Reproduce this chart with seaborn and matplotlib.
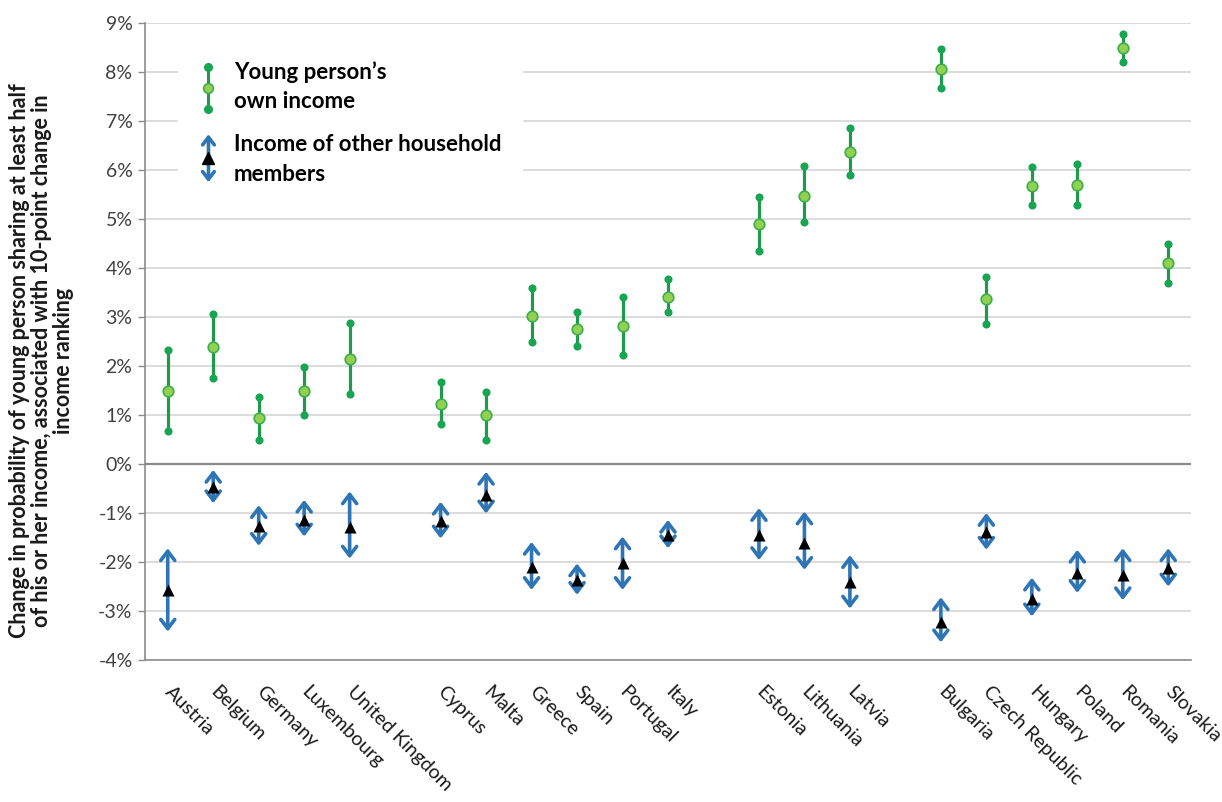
import numpy as np
import pandas as pd
import matplotlib
matplotlib.use("Agg")
import matplotlib.pyplot as plt
import seaborn as sns
from matplotlib.lines import Line2D
from matplotlib.patches import FancyArrowPatch
from matplotlib.legend_handler import HandlerBase

# ---------------- data ----------------
country_groups = [
    ["Austria", "Belgium", "Germany", "Luxembourg", "United Kingdom"],
    ["Cyprus", "Malta", "Greece", "Spain", "Portugal", "Italy"],
    ["Estonia", "Lithuania", "Latvia"],
    ["Bulgaria", "Czech Republic", "Hungary", "Poland", "Romania", "Slovakia"],
]

own_mid = [1.48, 2.39, 0.93, 1.48, 2.14,
           1.22, 1.01, 3.03, 2.76, 2.82, 3.41,
           4.90, 5.46, 6.36,
           8.06, 3.36, 5.67, 5.70, 8.50, 4.10]
own_lo = [0.67, 1.75, 0.50, 1.00, 1.42,
          0.81, 0.50, 2.50, 2.41, 2.22, 3.11,
          4.35, 4.93, 5.90,
          7.68, 2.86, 5.28, 5.28, 8.21, 3.69]
own_hi = [2.32, 3.06, 1.37, 1.97, 2.87,
          1.68, 1.46, 3.60, 3.11, 3.40, 3.77,
          5.44, 6.08, 6.85,
          8.47, 3.82, 6.06, 6.12, 8.78, 4.50]

oth_mid = [-2.57, -0.46, -1.27, -1.14, -1.28,
           -1.16, -0.63, -2.10, -2.37, -2.03, -1.45,
           -1.45, -1.62, -2.40,
           -3.22, -1.38, -2.75, -2.22, -2.27, -2.13]
oth_lo = [-3.42, -0.80, -1.67, -1.48, -1.93,
          -1.52, -1.01, -2.57, -2.67, -2.57, -1.72,
          -1.96, -2.16, -2.95,
          -3.64, -1.75, -3.11, -2.63, -2.78, -2.50]
oth_hi = [-1.72, -0.12, -0.84, -0.73, -0.56,
          -0.77, -0.16, -1.59, -2.03, -1.48, -1.14,
          -0.90, -0.97, -1.86,
          -2.72, -1.00, -2.32, -1.75, -1.72, -1.72]

y_ticks = [-4, -3, -2, -1, 0, 1, 2, 3, 4, 5, 6, 7, 8, 9]
y_tick_labels = ["-4%", "-3%", "-2%", "-1%", "0%", "1%", "2%", "3%",
                 "4%", "5%", "6%", "7%", "8%", "9%"]

legend_own = "Young person\u2019s\nown income"
legend_oth = "Income of other household\nmembers"
y_label = ("Change in probability of young person sharing at least half\n"
           "of his or her income, associated with 10-point change in\n"
           "income ranking")

# category positions: one empty slot between groups
countries, pos = [], []
slot = 0
for gi, grp in enumerate(country_groups):
    for c in grp:
        countries.append(c)
        pos.append(slot)
        slot += 1
    slot += 1
n_slots = slot - 1

df = pd.DataFrame({
    "country": countries, "pos": pos,
    "own_mid": own_mid, "own_lo": own_lo, "own_hi": own_hi,
    "oth_mid": oth_mid, "oth_lo": oth_lo, "oth_hi": oth_hi,
})

# ---------------- style ----------------
sns.set_theme(style="white")
plt.rcParams["font.family"] = ["Lato", "DejaVu Sans"]

GREEN_LINE = "#1F9A4A"
GREEN_DOT = "#17A552"
GREEN_FACE = "#92D050"
GREEN_EDGE = "#3DAE4F"
BLUE = "#2E75B6"
TEXT = "#1A1A1A"

fig = plt.figure(figsize=(12.22, 8.02), dpi=100)
ax = fig.add_axes([145 / 1222, 1 - 660 / 802, (1191 - 145) / 1222, (660 - 23) / 802])

# gridlines
ax.set_ylim(-4, 9)
ax.set_xlim(-0.5, n_slots - 0.5)
ax.set_yticks(y_ticks)
ax.set_yticklabels(y_tick_labels)
ax.yaxis.grid(True, color="#D9D9D9", lw=1.3)
ax.xaxis.grid(False)
ax.set_axisbelow(True)
ax.axhline(0, color="#8A8A8A", lw=1.6, zorder=1)

# green error bars (own income)
ax.vlines(df["pos"], df["own_lo"], df["own_hi"], color=GREEN_LINE, lw=2.3, zorder=2)
ends = pd.concat([df[["pos", "own_lo"]].rename(columns={"own_lo": "v"}),
                  df[["pos", "own_hi"]].rename(columns={"own_hi": "v"})])
sns.scatterplot(data=ends, x="pos", y="v", ax=ax, color=GREEN_DOT, s=34,
                edgecolor=GREEN_DOT, linewidth=0, zorder=3, legend=False)
sns.scatterplot(data=df, x="pos", y="own_mid", ax=ax, color=GREEN_FACE, s=58,
                edgecolor=GREEN_EDGE, linewidth=1.2, zorder=4, legend=False)

# blue double arrows (other members' income)
for _, r in df.iterrows():
    ax.annotate("", xy=(r["pos"], r["oth_hi"]), xytext=(r["pos"], r["oth_lo"]),
                arrowprops=dict(arrowstyle="<->,head_length=0.55,head_width=0.42",
                                lw=2.6, color=BLUE, shrinkA=0, shrinkB=0),
                zorder=3)
sns.scatterplot(data=df, x="pos", y="oth_mid", ax=ax, color="black", marker="^",
                s=75, edgecolor="black", linewidth=0, zorder=5, legend=False)

# axes cosmetics
ax.set_xticks(df["pos"])
ax.set_xticklabels(df["country"], rotation=-45, ha="left", va="center",
                   rotation_mode="anchor", fontsize=14, color=TEXT)
ax.tick_params(axis="x", length=0, pad=21)
ax.tick_params(axis="y", length=5, width=1, color="#8C8C8C", labelsize=14,
               labelcolor="#404040", pad=4, left=True)
for s in ["top", "right"]:
    ax.spines[s].set_visible(False)
for s in ["left", "bottom"]:
    ax.spines[s].set_color("#8C8C8C")
    ax.spines[s].set_linewidth(1.2)
ax.set_xlabel("")
ax.set_ylabel("")

fig.text(0.034, 0.55, y_label, rotation=90, ha="center", va="center",
         multialignment="center", fontsize=15.5, fontweight="bold", color=TEXT,
         linespacing=1.05)


# ---------------- legend ----------------
class HandlerOwn(HandlerBase):
    def create_artists(self, legend, orig_handle, xdescent, ydescent, width,
                       height, fontsize, trans):
        cx = width / 2 - xdescent
        mid = (height) / 2 - ydescent
        half = 0.95 * fontsize
        y0, y1 = mid - half, mid + half
        line = Line2D([cx, cx], [y0, y1], color=GREEN_LINE, lw=2.2, transform=trans)
        e = Line2D([cx, cx], [y0, y1], ls="none", marker="o", ms=5.5,
                   color=GREEN_DOT, mec=GREEN_DOT, transform=trans)
        m = Line2D([cx], [mid], ls="none", marker="o", ms=7,
                   mfc=GREEN_FACE, mec=GREEN_EDGE, mew=1.2, transform=trans)
        return [line, e, m]


class HandlerOther(HandlerBase):
    def create_artists(self, legend, orig_handle, xdescent, ydescent, width,
                       height, fontsize, trans):
        cx = width / 2 - xdescent
        mid = (height) / 2 - ydescent + 2
        half = 1.08 * fontsize
        arr = FancyArrowPatch((cx, mid - half), (cx, mid + half),
                              arrowstyle="<->,head_length=0.55,head_width=0.42",
                              mutation_scale=10, lw=2.6, color=BLUE,
                              transform=trans, shrinkA=0, shrinkB=0)
        t = Line2D([cx], [mid], ls="none", marker="^", ms=8.5,
                   color="black", mec="black", transform=trans)
        return [arr, t]


h_own = Line2D([], [], color=GREEN_LINE)
h_oth = Line2D([], [], color=BLUE)
leg = ax.legend([h_own, h_oth], [legend_own, legend_oth],
                handler_map={h_own: HandlerOwn(), h_oth: HandlerOther()},
                loc="upper left", bbox_to_anchor=(0.032, 0.972), borderaxespad=0,
                frameon=True, facecolor="white", edgecolor="white", framealpha=1,
                fancybox=False, handlelength=0.9, handleheight=2.0,
                handletextpad=0.7, labelspacing=1.0, borderpad=0.9,
                prop={"size": 16, "weight": "bold"})
for t in leg.get_texts():
    t.set_color("black")
    t.set_linespacing(1.5)

fig.savefig("out.png", dpi=100, facecolor="white")
